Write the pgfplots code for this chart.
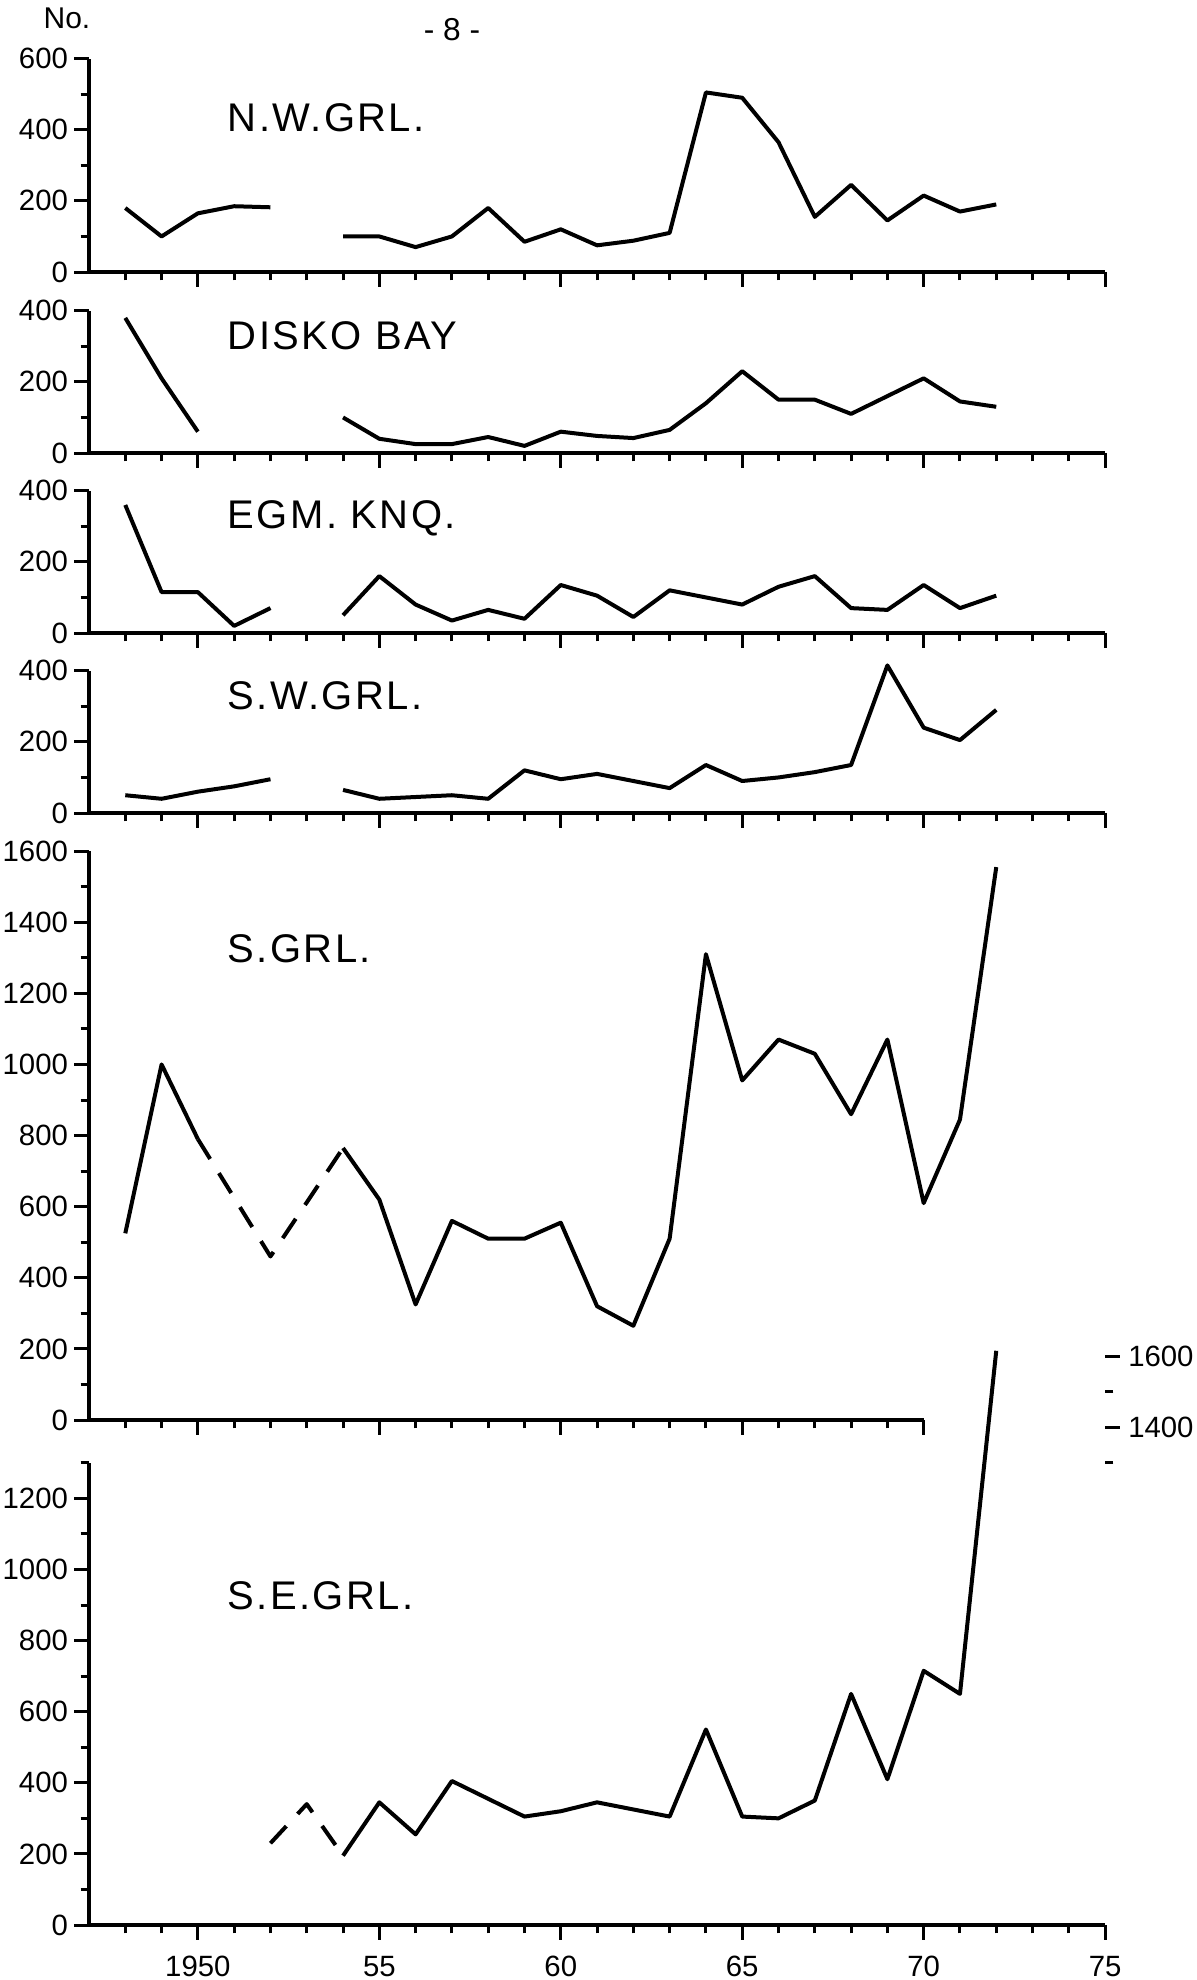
\documentclass[border=0pt]{standalone}
\usepackage{fontspec}
\setmainfont{Liberation Sans}
\newfontfamily\labfont{Liberation Sans}[LetterSpace=6]
\usepackage{pgfplots}
\pgfplotsset{compat=1.18}

% one px of the 1196x1980 page = 0.3pt
\pgfplotsset{
  panel/.style={
    x=10.887pt, y=0.10668pt,
    anchor=south west,
    xmin=1947, xmax=1975, ymin=0,
    axis x line*=bottom, axis y line*=left,
    axis line style={-, line width=1.4pt},
    tick align=outside,
    major tick length=4.4pt, minor tick length=2.5pt,
    tick style={black, line width=0.9pt},
    xtick={1950,1955,...,1975}, minor xtick={1948,...,1974},
    xticklabels={},
    ytick distance=200,
    clip=false,
    tick label style={font=\fontsize{8.8}{10}\selectfont},
    xticklabel style={yshift=-1.5pt},
    yticklabel style={xshift=1.6pt},
    /pgf/number format/assume math mode=true,
    /pgf/number format/1000 sep={},
    every axis plot/.append style={black, line width=1.2pt, line join=round, mark=none},
  },
}
\tikzset{
  lbl/.style={anchor=west, font=\labfont\fontsize{12}{14}\selectfont},
  brk/.style={dash pattern=on 7pt off 5pt},
}

\begin{document}
\begin{tikzpicture}
\useasboundingbox (0,0) rectangle (358.8pt,-594pt);
\node[font=\fontsize{9}{10}\selectfont] at (20.1pt,-5.4pt) {No.};
\node[font=\fontsize{9.5}{10}\selectfont] at (135.6pt,-9pt) {- 8 -};

% N.W.GRL.
\begin{axis}[panel, at={(26.7pt,-81.6pt)}, ymax=600, minor ytick={100,300,500}]
\addplot[] coordinates {(1948,180)(1949,100)(1950,165)(1951,185)(1952,182)};
\addplot[] coordinates {(1954,100)(1955,100)(1956,70)(1957,100)(1958,180)(1959,85)(1960,120)
  (1961,75)(1962,88)(1963,110)(1964,505)(1965,490)(1966,365)(1967,155)(1968,245)
  (1969,145)(1970,215)(1971,170)(1972,190)};
\node[lbl] at (axis cs:1950.5,433) {N.W.GRL.};
\end{axis}

% DISKO BAY
\begin{axis}[panel, at={(26.7pt,-135.9pt)}, ymax=400, minor ytick={100,300}]
\addplot[] coordinates {(1948,380)(1949,210)(1950,60)};
\addplot[] coordinates {(1954,100)(1955,40)(1956,25)(1957,25)(1958,45)(1959,20)(1960,60)
  (1961,48)(1962,42)(1963,65)(1964,140)(1965,230)(1966,150)(1967,150)(1968,110)
  (1969,160)(1970,210)(1971,145)(1972,130)};
\node[lbl] at (axis cs:1950.5,329) {DISKO BAY};
\end{axis}

% EGM. KNQ.
\begin{axis}[panel, at={(26.7pt,-189.9pt)}, ymax=400, minor ytick={100,300}]
\addplot[] coordinates {(1948,360)(1949,115)(1950,115)(1951,20)(1952,70)};
\addplot[] coordinates {(1954,50)(1955,160)(1956,80)(1957,35)(1958,65)(1959,40)(1960,135)
  (1961,105)(1962,45)(1963,120)(1964,100)(1965,80)(1966,130)(1967,160)(1968,70)
  (1969,65)(1970,135)(1971,70)(1972,105)};
\node[lbl] at (axis cs:1950.5,323) {EGM. KNQ.};
\end{axis}

% S.W.GRL.
\begin{axis}[panel, at={(26.7pt,-243.9pt)}, ymax=400, minor ytick={100,300}]
\addplot[] coordinates {(1948,50)(1949,40)(1950,60)(1951,75)(1952,95)};
\addplot[] coordinates {(1954,65)(1955,40)(1956,45)(1957,50)(1958,40)(1959,120)(1960,95)
  (1961,110)(1962,90)(1963,70)(1964,135)(1965,90)(1966,100)(1967,115)(1968,135)
  (1969,415)(1970,240)(1971,205)(1972,290)};
\node[lbl] at (axis cs:1950.5,329) {S.W.GRL.};
\end{axis}

% S.GRL.
\begin{axis}[panel, at={(26.7pt,-426pt)}, xmax=1970, ymax=1600,
  minor ytick={100,300,...,1500}]
\addplot[] coordinates {(1948,525)(1949,1000)(1950,790)};
\addplot[brk] coordinates {(1950,790)(1951,625)(1952,460)(1953,612)(1954,765)};
\addplot[] coordinates {(1954,765)(1955,620)(1956,325)(1957,560)(1958,510)(1959,510)
  (1960,555)(1961,320)(1962,265)(1963,510)(1964,1310)(1965,955)(1966,1070)(1967,1030)
  (1968,860)(1969,1070)(1970,610)(1971,845)(1972,1555)};
\node[lbl] at (axis cs:1950.5,1325) {S.GRL.};
\end{axis}

% S.E.GRL.
\begin{axis}[panel, at={(26.7pt,-577.5pt)}, ymax=1300,
  minor ytick={100,300,...,1300},
  xticklabels={1950,55,60,65,70,75}]
\addplot[brk] coordinates {(1952,230)(1953,340)(1954,195)};
\addplot[] coordinates {(1954,195)(1955,345)(1956,255)(1957,405)(1958,355)(1959,305)
  (1960,320)(1961,345)(1962,325)(1963,305)(1964,550)(1965,305)(1966,300)(1967,350)
  (1968,650)(1969,410)(1970,715)(1971,650)(1972,1615)};
\node[lbl] at (axis cs:1950.5,925) {S.E.GRL.};
\end{axis}

% continuation scale for the 1972 S.E. value
\begin{axis}[panel, at={(26.7pt,-577.5pt)}, ymax=1600,
  axis x line=none, axis y line*=right, y axis line style={draw=none},
  yticklabel style={xshift=-2.6pt},
  ytick={1400,1600}, minor ytick={1300,1500}]
\addplot[draw=none] coordinates {(1972,1600)};
\end{axis}
\end{tikzpicture}
\end{document}
